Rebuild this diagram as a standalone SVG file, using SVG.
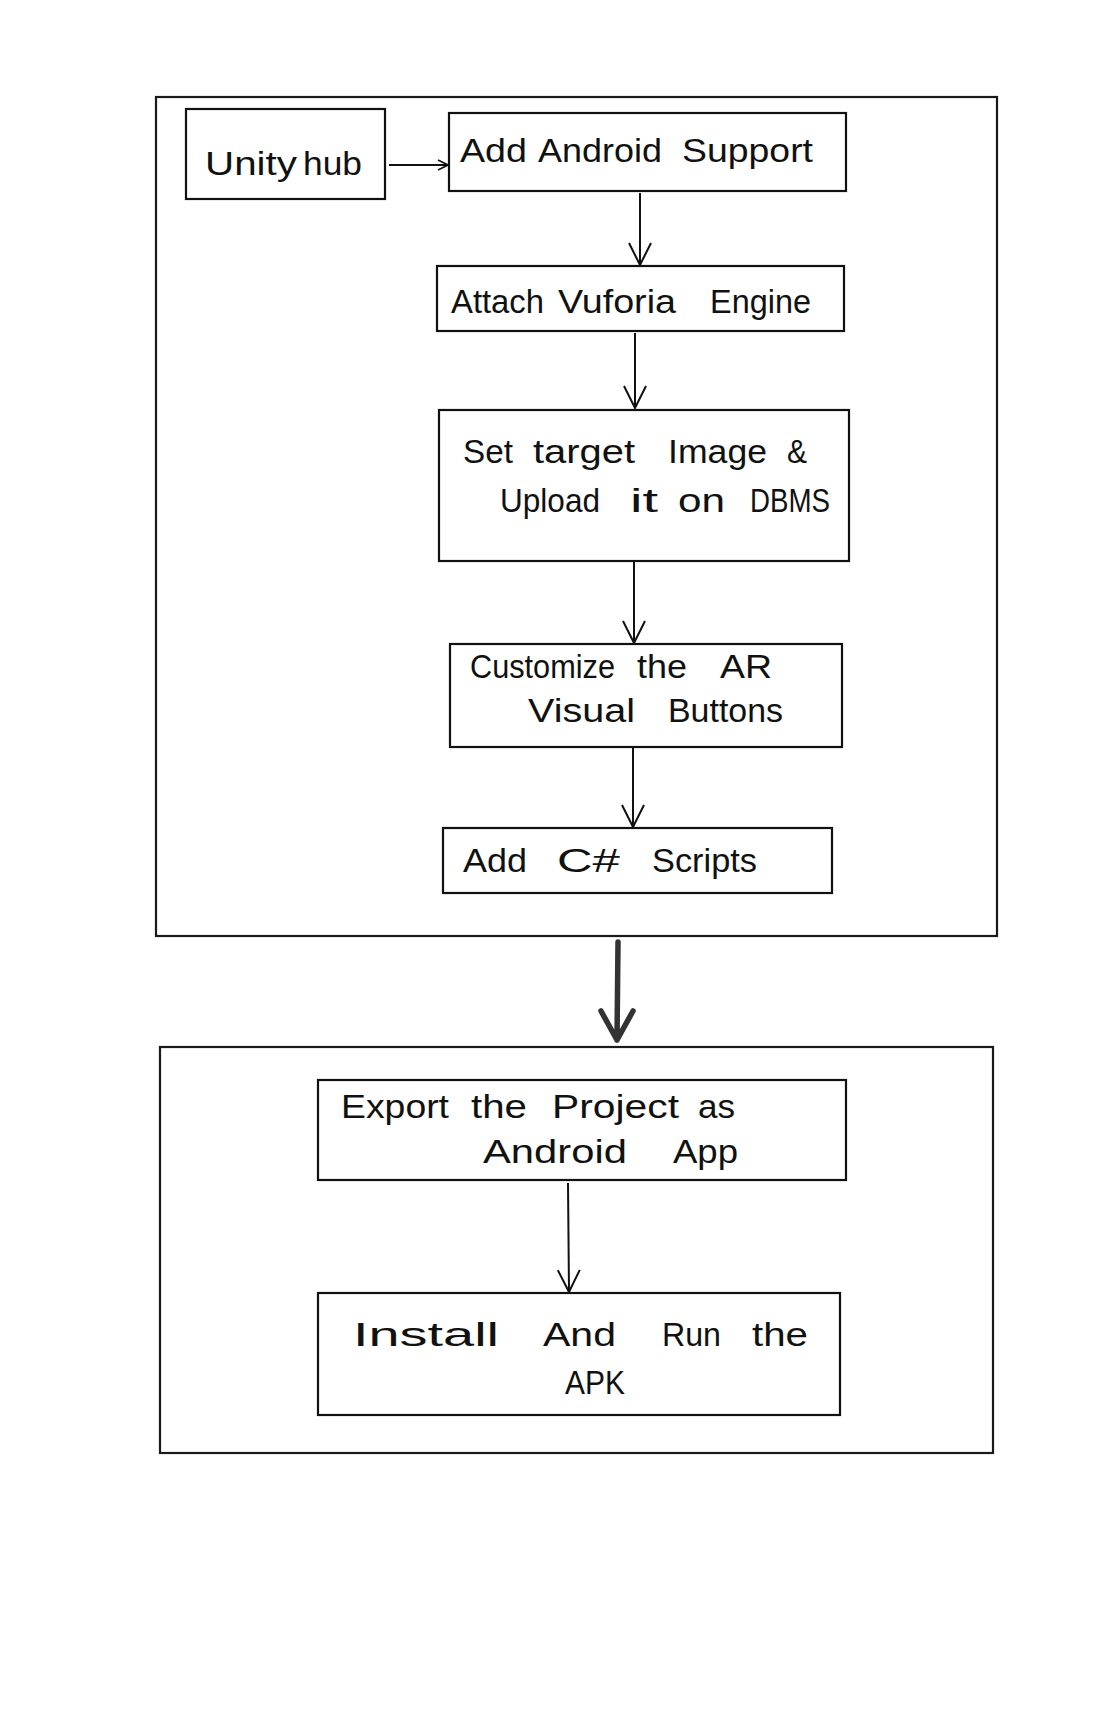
<svg xmlns="http://www.w3.org/2000/svg" width="1114" height="1715" viewBox="0 0 1114 1715">
<style>
.box{fill:none;stroke:#111;stroke-width:2.2}
.frame{fill:none;stroke:#1a1a1a;stroke-width:2.2}
.lbl{font-family:"Liberation Sans","DejaVu Sans",sans-serif;font-size:33px;fill:#111}
.con{fill:none;stroke:#111;stroke-width:2}
.big{fill:none;stroke:#333;stroke-width:5.5;stroke-linecap:round;stroke-linejoin:round}
</style>
<defs>
<marker id="ah" viewBox="0 0 24 24" refX="23" refY="12" markerWidth="24" markerHeight="24" markerUnits="userSpaceOnUse" orient="auto">
<path d="M1,1 L23,12 L1,23" fill="none" stroke="#111" stroke-width="2"/>
</marker>
<marker id="ahs" viewBox="0 0 12 12" refX="11" refY="6" markerWidth="12" markerHeight="12" markerUnits="userSpaceOnUse" orient="auto">
<path d="M1,1 L11,6 L1,11" fill="none" stroke="#111" stroke-width="1.6"/>
</marker>
</defs>
<rect width="1114" height="1715" fill="#ffffff"/>
<g id="frame-build">
<rect class="frame" x="156" y="97" width="841" height="839"/>
</g>
<g id="frame-deploy">
<rect class="frame" x="160" y="1047" width="833" height="406"/>
</g>
<g id="unity-hub">
<rect class="box" x="186" y="109" width="199" height="90"/>
<text class="lbl" y="175"><tspan x="205" textLength="92" lengthAdjust="spacingAndGlyphs">Unity</tspan> <tspan x="303" textLength="59" lengthAdjust="spacingAndGlyphs">hub</tspan></text>
</g>
<g id="add-android-support">
<rect class="box" x="449" y="113" width="397" height="78"/>
<text class="lbl" y="162"><tspan x="460" textLength="67" lengthAdjust="spacingAndGlyphs">Add</tspan> <tspan x="538" textLength="124" lengthAdjust="spacingAndGlyphs">Android</tspan> <tspan x="682" textLength="131" lengthAdjust="spacingAndGlyphs">Support</tspan></text>
</g>
<g id="attach-vuforia">
<rect class="box" x="437" y="266" width="407" height="65"/>
<text class="lbl" y="313"><tspan x="451" textLength="93" lengthAdjust="spacingAndGlyphs">Attach</tspan> <tspan x="558" textLength="118" lengthAdjust="spacingAndGlyphs">Vuforia</tspan> <tspan x="710" textLength="101" lengthAdjust="spacingAndGlyphs">Engine</tspan></text>
</g>
<g id="set-target-image">
<rect class="box" x="439" y="410" width="410" height="151"/>
<text class="lbl" y="463"><tspan x="463" textLength="50" lengthAdjust="spacingAndGlyphs">Set</tspan> <tspan x="533" textLength="102" lengthAdjust="spacingAndGlyphs">target</tspan> <tspan x="668" textLength="99" lengthAdjust="spacingAndGlyphs">Image</tspan> <tspan x="787" textLength="20" lengthAdjust="spacingAndGlyphs">&amp;</tspan></text>
<text class="lbl" y="512"><tspan x="500" textLength="100" lengthAdjust="spacingAndGlyphs">Upload</tspan> <tspan x="630" textLength="28" lengthAdjust="spacingAndGlyphs">it</tspan> <tspan x="678" textLength="47" lengthAdjust="spacingAndGlyphs">on</tspan> <tspan x="750" textLength="80" lengthAdjust="spacingAndGlyphs">DBMS</tspan></text>
</g>
<g id="customize-ar">
<rect class="box" x="450" y="644" width="392" height="103"/>
<text class="lbl" y="678"><tspan x="470" textLength="145" lengthAdjust="spacingAndGlyphs">Customize</tspan> <tspan x="637" textLength="50" lengthAdjust="spacingAndGlyphs">the</tspan> <tspan x="720" textLength="52" lengthAdjust="spacingAndGlyphs">AR</tspan></text>
<text class="lbl" y="722"><tspan x="528" textLength="107" lengthAdjust="spacingAndGlyphs">Visual</tspan> <tspan x="668" textLength="115" lengthAdjust="spacingAndGlyphs">Buttons</tspan></text>
</g>
<g id="add-csharp">
<rect class="box" x="443" y="828" width="389" height="65"/>
<text class="lbl" y="872"><tspan x="463" textLength="64" lengthAdjust="spacingAndGlyphs">Add</tspan> <tspan x="557" textLength="63" lengthAdjust="spacingAndGlyphs">C#</tspan> <tspan x="652" textLength="105" lengthAdjust="spacingAndGlyphs">Scripts</tspan></text>
</g>
<g id="export-project">
<rect class="box" x="318" y="1080" width="528" height="100"/>
<text class="lbl" y="1118"><tspan x="341" textLength="108" lengthAdjust="spacingAndGlyphs">Export</tspan> <tspan x="471" textLength="56" lengthAdjust="spacingAndGlyphs">the</tspan> <tspan x="552" textLength="127" lengthAdjust="spacingAndGlyphs">Project</tspan> <tspan x="698" textLength="37" lengthAdjust="spacingAndGlyphs">as</tspan></text>
<text class="lbl" y="1163"><tspan x="483" textLength="144" lengthAdjust="spacingAndGlyphs">Android</tspan> <tspan x="673" textLength="65" lengthAdjust="spacingAndGlyphs">App</tspan></text>
</g>
<g id="install-run">
<rect class="box" x="318" y="1293" width="522" height="122"/>
<text class="lbl" y="1346"><tspan x="353" textLength="146" lengthAdjust="spacingAndGlyphs">Install</tspan> <tspan x="543" textLength="73" lengthAdjust="spacingAndGlyphs">And</tspan> <tspan x="662" textLength="59" lengthAdjust="spacingAndGlyphs">Run</tspan> <tspan x="752" textLength="56" lengthAdjust="spacingAndGlyphs">the</tspan></text>
<text class="lbl" x="565" y="1394" textLength="60" lengthAdjust="spacingAndGlyphs">APK</text>
</g>
<g id="connectors">
<line class="con" x1="389" y1="165" x2="448" y2="165" marker-end="url(#ahs)"/>
<line class="con" x1="640" y1="193" x2="640" y2="265" marker-end="url(#ah)"/>
<line class="con" x1="635" y1="333" x2="635" y2="408" marker-end="url(#ah)"/>
<line class="con" x1="634" y1="562" x2="634" y2="643" marker-end="url(#ah)"/>
<line class="con" x1="633" y1="748" x2="633" y2="827" marker-end="url(#ah)"/>
<line class="con" x1="568" y1="1183" x2="569" y2="1292" marker-end="url(#ah)"/>
<path class="big" d="M618,942 L617,1040 M601,1011 L617,1040 L633,1011"/>
</g>
</svg>
